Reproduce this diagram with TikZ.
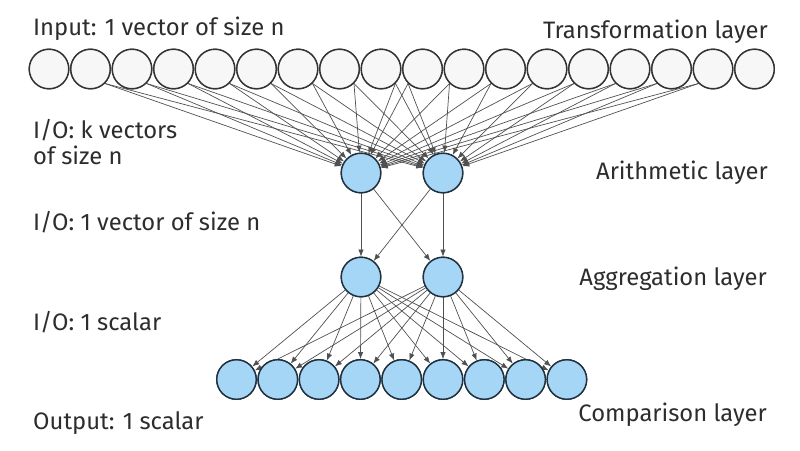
\documentclass[tikz,border=0pt]{standalone}
\usepackage{fontspec}
\setmainfont{Fira Sans}
\usetikzlibrary{arrows.meta}
\definecolor{edgec}{RGB}{80,80,80}
\definecolor{nodeblue}{RGB}{166,214,245}
\definecolor{nodeborder}{RGB}{32,48,62}
\definecolor{textc}{RGB}{45,45,45}
\definecolor{topfill}{RGB}{247,247,247}
\begin{document}
\begin{tikzpicture}[x=1pt,y=-1pt,
  topnode/.style={circle,draw=black!80,fill=topfill,line width=1.4pt,minimum size=39.5pt,inner sep=0pt},
  bluenode/.style={circle,draw=nodeborder,fill=nodeblue,line width=1.4pt,minimum size=39.5pt,inner sep=0pt},
  conn/.style={draw=edgec,line width=0.7pt,-{Latex[length=7pt,width=5.5pt]}},
  lbl/.style={font=\fontsize{23.8}{28}\selectfont,text=textc,inner sep=0pt}]
\useasboundingbox (0,0) rectangle (800,450);
% top layer
\foreach \i in {1,...,18} {
  \node[topnode] (t\i) at ({49+41.5*(\i-1)},69) {};
}
% arithmetic layer
\node[bluenode] (a1) at (361,173) {};
\node[bluenode] (a2) at (443,173) {};
% aggregation layer
\node[bluenode] (g1) at (361,277) {};
\node[bluenode] (g2) at (443,277) {};
% comparison layer
\foreach \j in {1,...,9} {
  \node[bluenode] (c\j) at ({236.5+41.3*(\j-1)},379.5) {};
}
% edges top -> arithmetic
\foreach \i in {2,...,9} {
  \draw[conn] (t\i.-45) -- (a1);
  \draw[conn] (t\i.-45) -- (a2);
}
\foreach \i in {10,...,17} {
  \draw[conn] (t\i.-135) -- (a1);
  \draw[conn] (t\i.-135) -- (a2);
}
% arithmetic -> aggregation
\draw[conn] (a1) -- (g1);
\draw[conn] (a1) -- (g2);
\draw[conn] (a2) -- (g1);
\draw[conn] (a2) -- (g2);
% aggregation -> comparison
\foreach \j in {1,...,9} {
  \draw[conn] (g1) -- (c\j);
  \draw[conn] (g2) -- (c\j);
}
% redraw nodes on top of lines
\foreach \i in {1,...,18} { \node[topnode] at (t\i) {}; }
\foreach \n in {a1,a2,g1,g2,c1,c2,c3,c4,c5,c6,c7,c8,c9} { \node[bluenode] at (\n) {}; }
% labels
\node[lbl,anchor=base west] (l1) at (33,35) {Input: 1 vector of size n};
\node[lbl,anchor=base east] (r1) at (768,38) {Transformation layer};
\node[lbl,anchor=base west] (l2) at (33,138) {I/O: k vectors};
\node[lbl,anchor=base west] (l2b) at (33,164) {of size n};
\node[lbl,anchor=base east] (r2) at (768,179) {Arithmetic layer};
\node[lbl,anchor=base west] (l3) at (33,230) {I/O: 1 vector of size n};
\node[lbl,anchor=base east] (r3) at (767,285) {Aggregation layer};
\node[lbl,anchor=base west] (l4) at (33,330) {I/O: 1 scalar};
\node[lbl,anchor=base east] (r4) at (767,421) {Comparison layer};
\node[lbl,anchor=base west] (l5) at (33,429) {Output: 1 scalar};
\end{tikzpicture}
\end{document}
